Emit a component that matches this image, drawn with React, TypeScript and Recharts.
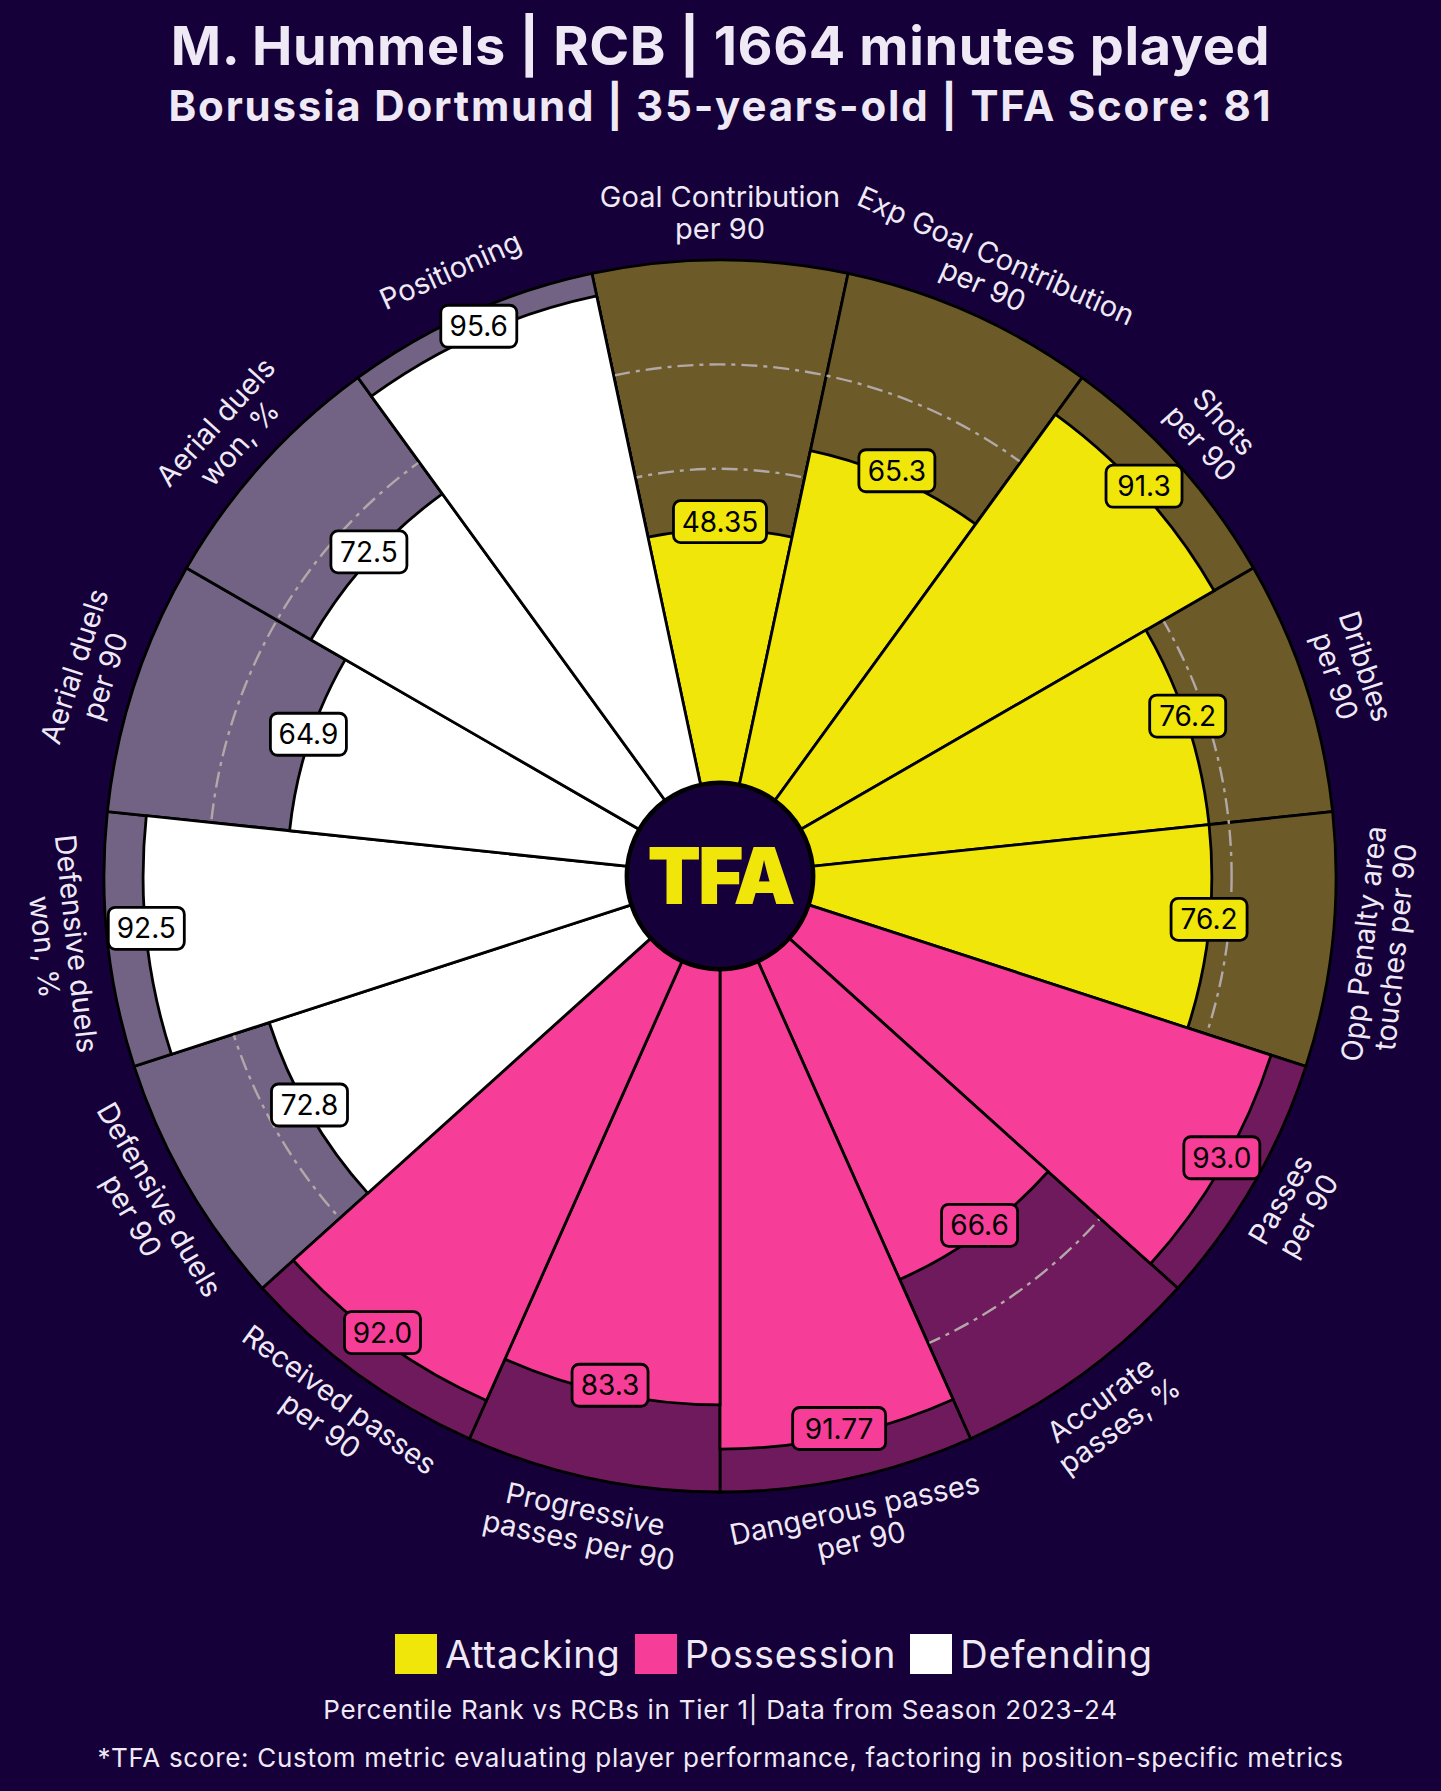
import React from 'react';
import { RadialBarChart, RadialBar, PolarAngleAxis, PolarRadiusAxis, PolarGrid, Cell, LabelList } from 'recharts';

// metrics go clockwise, starting at 12 o'clock
const METRICS = [
  'Goal Contribution\nper 90',
  'Exp Goal Contribution\nper 90',
  'Shots\nper 90',
  'Dribbles\nper 90',
  'Opp Penalty area\ntouches per 90',
  'Passes\nper 90',
  'Accurate\npasses, %',
  'Dangerous passes\nper 90',
  'Progressive\npasses per 90',
  'Received passes\nper 90',
  'Defensive duels\nper 90',
  'Defensive duels\nwon, %',
  'Aerial duels\nper 90',
  'Aerial duels\nwon, %',
  'Positioning',
];
const PERCENTILES = [48.35, 65.3, 91.3, 76.2, 76.2, 93.0, 66.6, 91.77, 83.3, 92.0, 72.8, 92.5, 64.9, 72.5, 95.6];
const PERCENTILE_TEXT = ['48.35', '65.3', '91.3', '76.2', '76.2', '93.0', '66.6', '91.77', '83.3', '92.0', '72.8', '92.5', '64.9', '72.5', '95.6'];
const GROUPS = [
  'Attacking', 'Attacking', 'Attacking', 'Attacking', 'Attacking',
  'Possession', 'Possession', 'Possession', 'Possession', 'Possession',
  'Defending', 'Defending', 'Defending', 'Defending', 'Defending',
];
const GROUP_NAMES = ['Attacking', 'Possession', 'Defending'];
const GRID_TICKS = [60, 80];

const BG = '#150039';
const TEXT = '#efe9f6';
const BAR_COLORS: Record<string, string> = { Attacking: '#f1e60a', Possession: '#f63d98', Defending: '#ffffff' };
const BACK_COLORS: Record<string, string> = { Attacking: '#6c5a29', Possession: '#6f1a5c', Defending: '#726384' };

const W = 1441;
const H = 1791;
const CX = 720;
const CY = 876;
const INNER = 94;
const OUTER = 616;
const START = 78;
const FONT = 'Inter, "Noto Sans", sans-serif';

const data = METRICS.map((name, i) => ({ name, value: PERCENTILES[i], full: 100, group: GROUPS[i] }));
const metricLines = METRICS.map((m) => m.split('\n'));

const RAD = Math.PI / 180;
const toXY = (cx: number, cy: number, r: number, angle: number) => [cx + r * Math.cos(-angle * RAD), cy + r * Math.sin(-angle * RAD)];

const MetricLabel = (props: any) => {
  const { viewBox, index } = props;
  const { cx, cy, outerRadius, startAngle, endAngle } = viewBox;
  const mid = (startAngle + endAngle) / 2;
  const [x, y] = toXY(cx, cy, outerRadius + 47, mid);
  const t = (((90 - mid) % 360) + 360) % 360;
  const rot = t <= 90 ? t : t < 270 ? t - 180 : t - 360;
  const lines = metricLines[index];
  return (
    <text transform={`translate(${x},${y}) rotate(${rot})`} textAnchor="middle" fill={TEXT} fontSize={29} fontFamily={FONT}>
      {lines.map((l, i) => (
        <tspan key={i} x={0} y={(i - (lines.length - 1) / 2) * 32} dy="0.36em">{l}</tspan>
      ))}
    </text>
  );
};

const ValueLabel = (props: any) => {
  const { viewBox, index } = props;
  const { cx, cy, outerRadius, startAngle, endAngle } = viewBox;
  const mid = (startAngle + endAngle) / 2;
  const [x, py] = toXY(cx, cy, outerRadius, mid);
  const y = py - 8;
  const text = PERCENTILE_TEXT[index];
  const digits = text.replace('.', '').length;
  const w = digits * 17 + 7 + 18;
  const h = 42;
  return (
    <g>
      <rect x={x - w / 2} y={y - h / 2} width={w} height={h} rx={7} fill={BAR_COLORS[GROUPS[index]]} stroke="#000" strokeWidth={2.8} />
      <text x={x} y={y} dy="0.36em" textAnchor="middle" fontSize={28} fontFamily={FONT} fill="#000">{text}</text>
    </g>
  );
};

const chartProps = {
  layout: 'centric' as const,
  data,
  width: W,
  height: H,
  cx: CX,
  cy: CY,
  innerRadius: INNER,
  outerRadius: OUTER,
  startAngle: START,
  endAngle: START - 360,
  barCategoryGap: 0,
  margin: { top: 0, right: 0, bottom: 0, left: 0 },
};

const layer: React.CSSProperties = { position: 'absolute', left: 0, top: 0 };

export default function App() {
  return (
    <div style={{ position: 'relative', width: W, height: H, background: BG, overflow: 'hidden', fontFamily: FONT }}>
      <style>{'body{margin:0}'}</style>

      <div style={{ position: 'absolute', top: 15, width: W, textAlign: 'center', color: TEXT, fontSize: 54, fontWeight: 700, letterSpacing: 0.6, lineHeight: '62px' }}>
        M. Hummels | RCB | 1664 minutes played
      </div>
      <div style={{ position: 'absolute', top: 82, width: W, textAlign: 'center', color: TEXT, fontSize: 42, fontWeight: 700, letterSpacing: 1.8, lineHeight: '48px' }}>
        Borussia Dortmund | 35-years-old | TFA Score: 81
      </div>

      {/* background slices */}
      <div style={layer}>
        <RadialBarChart {...chartProps}>
          <PolarAngleAxis type="category" dataKey="name" tick={false} axisLine={false} />
          <PolarRadiusAxis type="number" domain={[0, 100]} tick={false} axisLine={false} />
          <RadialBar dataKey="full" stroke="#000" strokeWidth={2.8} isAnimationActive={false}>
            {data.map((d, i) => (
              <Cell key={i} fill={BACK_COLORS[d.group]} />
            ))}
            <LabelList dataKey="name" content={MetricLabel} />
          </RadialBar>
        </RadialBarChart>
      </div>

      {/* dash-dot reference circles */}
      <div style={layer}>
        <RadialBarChart {...chartProps}>
          <PolarAngleAxis type="category" dataKey="name" tick={false} axisLine={false} />
          <PolarRadiusAxis type="number" domain={[0, 100]} ticks={GRID_TICKS} tick={false} axisLine={false} />
          <PolarGrid gridType="circle" radialLines={false} stroke="#b2a8a8" strokeWidth={2.4} strokeDasharray="16 6 4 6" />
          <RadialBar dataKey="full" fill="none" stroke="none" isAnimationActive={false} />
        </RadialBarChart>
      </div>

      {/* percentile slices */}
      <div style={layer}>
        <RadialBarChart {...chartProps}>
          <PolarAngleAxis type="category" dataKey="name" tick={false} axisLine={false} />
          <PolarRadiusAxis type="number" domain={[0, 100]} tick={false} axisLine={false} />
          <RadialBar dataKey="value" stroke="#000" strokeWidth={2.8} isAnimationActive={false}>
            {data.map((d, i) => (
              <Cell key={i} fill={BAR_COLORS[d.group]} />
            ))}
            <LabelList dataKey="value" content={ValueLabel} />
          </RadialBar>
        </RadialBarChart>
      </div>

      {/* hub */}
      <div
        style={{
          position: 'absolute', left: CX - INNER, top: CY - INNER, width: INNER * 2, height: INNER * 2,
          borderRadius: '50%', background: BG, border: '3px solid #000', boxSizing: 'border-box',
          display: 'flex', alignItems: 'center', justifyContent: 'center',
        }}
      >
        <span style={{ color: '#f1e60a', fontSize: 78, fontWeight: 900, letterSpacing: -3, lineHeight: 1 }}>TFA</span>
      </div>

      {/* legend */}
      <div style={{ position: 'absolute', left: 395, top: 1633, height: 42, display: 'flex', alignItems: 'center', color: TEXT, fontSize: 38, letterSpacing: 0.8 }}>
        {GROUP_NAMES.map((g) => (
          <div key={g} style={{ display: 'flex', alignItems: 'center', marginRight: 14 }}>
            <div style={{ width: 42, height: 40, background: BAR_COLORS[g], marginRight: 8 }} />
            <span>{g}</span>
          </div>
        ))}
      </div>

      <div style={{ position: 'absolute', top: 1695, width: W, textAlign: 'center', color: TEXT, fontSize: 26, letterSpacing: 0.7, lineHeight: '30px' }}>
        Percentile Rank vs RCBs in Tier 1| Data from Season 2023-24
      </div>
      <div style={{ position: 'absolute', top: 1743, width: W, textAlign: 'center', color: TEXT, fontSize: 26, letterSpacing: 0.7, lineHeight: '30px' }}>
        *TFA score: Custom metric evaluating player performance, factoring in position-specific metrics
      </div>
    </div>
  );
}
